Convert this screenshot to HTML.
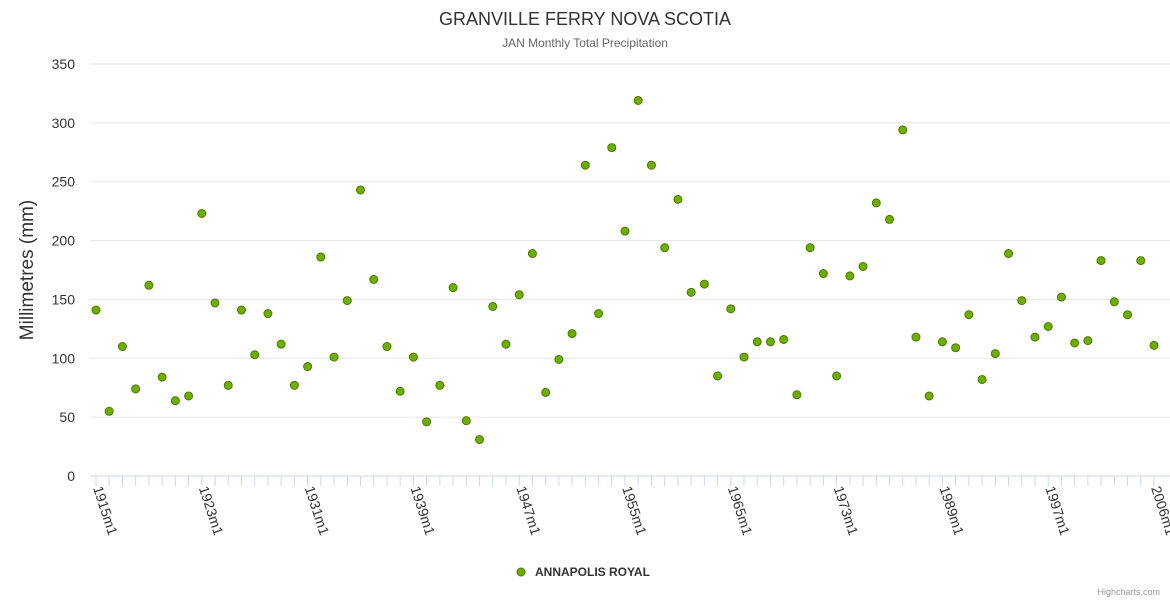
<!DOCTYPE html>
<html><head><meta charset="utf-8"><style>
body{margin:0;background:#fff;font-family:"Liberation Sans",sans-serif}
svg text{font-family:"Liberation Sans",sans-serif}
</style></head><body>
<svg id="c" width="1170" height="600" xmlns="http://www.w3.org/2000/svg">
<rect width="1170" height="600" fill="#fff"/>
<text x="585" y="25" text-anchor="middle" font-size="18" fill="#333">GRANVILLE FERRY NOVA SCOTIA</text>
<text x="585" y="47" text-anchor="middle" font-size="12" fill="#666">JAN Monthly Total Precipitation</text>
<text transform="translate(33,270) rotate(-90)" text-anchor="middle" font-size="19" fill="#333">Millimetres (mm)</text>
<g id="grid"></g><g id="xaxis"></g><g id="pts"></g>
<g>
<circle cx="521" cy="572" r="4" fill="#6fae00" stroke="#4a7a00" stroke-width="1"/>
<text x="535" y="576" font-size="12" font-weight="bold" fill="#333">ANNAPOLIS ROYAL</text>
</g>
<text x="1160" y="595" text-anchor="end" font-size="9" fill="#999">Highcharts.com</text>
</svg>
<script>
const years=[1915,1916,1917,1918,1919,1920,1921,1922,1923,1924,1925,1926,1927,1928,1929,1930,1931,1932,1933,1934,1935,1936,1937,1938,1939,1940,1941,1942,1943,1944,1945,1946,1947,1948,1949,1950,1951,1952,1953,1954,1955,1956,1957,1960,1961,1962,1963,1964,1965,1966,1967,1968,1969,1970,1971,1972,1973,1974,1975,1976,1977,1978,1979,1980,1989,1990,1991,1992,1993,1994,1995,1996,1997,1998,1999,2000,2001,2002,2003,2004,2006];
const categories=years.map(y=>y+'m1');
const values=[141,55,110,74,162,84,64,68,223,147,77,141,103,138,112,77,93,186,101,149,243,167,110,72,101,46,77,160,47,31,144,112,154,189,71,99,121,264,138,279,208,319,264,194,235,156,163,85,142,101,114,114,116,69,194,172,85,170,178,232,218,294,118,68,114,109,137,82,104,189,149,118,127,152,113,115,183,148,137,183,111];
const yTicks=[0,50,100,150,200,250,300,350];
const NS='http://www.w3.org/2000/svg';
const x0=96,x1=1154,yb=476,yt=64;
const xs=i=>x0+i*(x1-x0)/(categories.length-1);
const ys=v=>yb-v*(yb-yt)/350;
function mk(t,a,p){const e=document.createElementNS(NS,t);for(const k in a)e.setAttribute(k,a[k]);p.appendChild(e);return e;}
const grid=document.getElementById('grid'),xa=document.getElementById('xaxis'),pts=document.getElementById('pts');
yTicks.forEach(v=>{
 if(v>0){const l=mk('line',{x1:90,x2:1170,y1:ys(v),y2:ys(v),stroke:'#e6e6e6'},grid);
 
 }
 const t=mk('text',{x:75,y:ys(v)+5,'text-anchor':'end','font-size':14,fill:'#333'},grid);
 t.textContent=v;
 
 
});
const ax=mk('line',{x1:90,x2:1170,y1:yb,y2:yb,stroke:'#ccd6eb'},xa);


categories.forEach((c,i)=>{
 mk('line',{x1:xs(i),x2:xs(i),y1:yb,y2:yb+10,stroke:'#ccd6eb'},xa);
 if(i%8===0){const t=mk('text',{transform:`translate(${xs(i)-3},${yb+12}) rotate(72)`,'font-size':14,fill:'#333'},xa);
 t.textContent=c;
 
 }
});
values.forEach((v,i)=>{
 const p=mk('circle',{cx:xs(i),cy:ys(v),r:4,fill:'#6fae00',stroke:'#4a7a00','stroke-width':1},pts);
 
 
});
</script>
</body></html>
